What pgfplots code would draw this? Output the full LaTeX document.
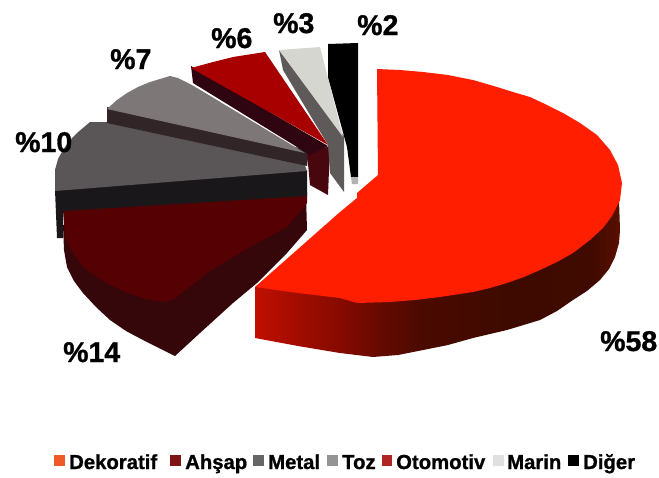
\documentclass[border=0pt]{standalone}
\usepackage{fontspec}
\setmainfont[BoldFeatures={FakeBold=1}]{Liberation Sans}
\usepackage{pgfplots}
\pgfplotsset{compat=1.18}

\definecolor{dekor}{HTML}{FF1E00}
\definecolor{ahsapTop}{HTML}{550002}
\definecolor{ahsapSide}{HTML}{35060A}
\definecolor{metalTop}{HTML}{5A5557}
\definecolor{metalSide}{HTML}{1A171A}
\definecolor{tozTop}{HTML}{7D7778}
\definecolor{tozSide}{HTML}{322528}
\definecolor{otoTop}{HTML}{A80000}
\definecolor{otoSide}{HTML}{2E0510}
\definecolor{otoDark}{HTML}{48060F}
\definecolor{marinTop}{HTML}{D6D6D0}
\definecolor{marinSide}{HTML}{5F5A5A}
\definecolor{legDekor}{HTML}{F05A28}
\definecolor{legAhsap}{HTML}{7D1416}
\definecolor{legMetal}{HTML}{666666}
\definecolor{legToz}{HTML}{949494}
\definecolor{legOto}{HTML}{B02424}
\definecolor{legMarin}{HTML}{E0E0E0}

\pgfdeclarehorizontalshading{redside}{100bp}{
  rgb(0bp)=(0.75,0.06,0);
  rgb(25bp)=(0.75,0.06,0);
  rgb(31bp)=(0.63,0.05,0);
  rgb(37bp)=(0.52,0.04,0);
  rgb(42bp)=(0.40,0.04,0);
  rgb(48bp)=(0.29,0.04,0);
  rgb(60bp)=(0.24,0.04,0);
  rgb(71bp)=(0.25,0.04,0);
  rgb(75bp)=(0.35,0.06,0);
  rgb(100bp)=(0.35,0.06,0)
}

\tikzset{
  lab/.style={font=\fontsize{28.5}{30}\selectfont\bfseries, anchor=base west, inner sep=0pt},
  leg/.style={font=\fontsize{20.3}{22}\selectfont\bfseries, anchor=base west, inner sep=0pt},
}

\begin{document}
\begin{tikzpicture}
\path[use as bounding box] (0,0) rectangle (659pt,477pt);
\begin{axis}[
    at={(0,0)},
    anchor=south west,
    scale only axis,
    width=659pt,
    height=477pt,
    xmin=0, xmax=659,
    ymin=0, ymax=477,
    y dir=reverse,
    hide axis,
    clip=false,
    every axis plot/.append style={draw=none},
]
% Ahsap 14
\addplot[fill=ahsapSide] coordinates {
    (63,225) (64,250) (67,267) (74,281) (83,293) (96,307) (110,320) (126,331) (143,340) (175,356) (200,333)
    (233,303) (257,283) (287,253) (307,230) (306,195)
} --cycle;
\addplot[fill=ahsapTop] coordinates {
    (63,210) (65,237) (73,253) (83,267) (104,282) (127,293) (146,299) (163,302) (173,300) (207,273)
    (250,247) (287,227) (307,203) (307,192)
} --cycle;
% Metal 10
\addplot[fill=metalSide] coordinates {
    (55,190) (307,170) (307,196) (63,211) (63,238) (57,238)
} --cycle;
\addplot[fill=metalTop] coordinates {
    (55,191) (55,170) (58,159) (63,150) (69,141) (77,133) (90,122) (107,122) (303,160) (307,171)
} --cycle;
% Toz 7
\addplot[fill=tozSide] coordinates {
    (107,107) (107,123) (307,166) (309,150)
} --cycle;
\addplot[fill=tozTop] coordinates {
    (107,109) (117,100) (127,93) (138,87) (150,82) (170,76) (178,78) (192,85) (305,153)
} --cycle;
% Otomotiv 6
\addplot[fill=otoDark] coordinates {
    (307,153) (330,146) (328,195) (310,185)
} --cycle;
\addplot[fill=otoSide] coordinates {
    (191,66) (193,83) (310,155) (328,146)
} --cycle;
\addplot[fill=otoTop] coordinates {
    (191,68) (213,62) (233,57) (265,52) (328,145)
} --cycle;
% Marin 3
\addplot[fill=marinSide] coordinates {
    (279,50) (283,70) (328,145) (330,173) (344,192) (344,136)
} --cycle;
\addplot[fill=marinTop] coordinates {
    (279,50) (320,47) (343,137)
} --cycle;
% Diger 2
\addplot[fill=black] coordinates {
    (328,44) (358,43) (358,177) (351,177) (347,147) (328,77)
} --cycle;
\addplot[fill=gray!60] coordinates {
    (351,177) (358,177) (358,184) (352,184)
} --cycle;
% Dekoratif 58
\addplot[shading=redside] coordinates {
    (619,200) (620,230) (619,243) (615,257) (609,269) (600,280) (587,291) (573,300) (557,311) (540,320) (507,330) (473,338)
    (448,345) (423,350) (398,355) (373,357) (340,353) (298,346) (255,338) (255,287) (340,290) (500,270)
} --cycle;
\addplot[fill=dekor] coordinates {
    (377,69) (400,70) (423,72) (448,75) (473,80) (497,87) (513,92) (530,97) (547,105) (563,113) (580,123) (597,135)
    (610,150) (618,165) (622,183) (620,200) (612,216) (603,228) (590,240) (573,253) (557,262) (540,270) (524,277)
    (507,283) (490,288) (473,292) (440,297) (415,300) (390,302) (357,303) (340,298) (298,293) (255,287) (340,212)
    (357,198) (357,193) (378,175)
} --cycle;
% legend squares
\addplot[fill=legDekor] coordinates {(54,455) (65,455) (65,466) (54,466)} --cycle;
\addplot[fill=legAhsap] coordinates {(170,455) (181,455) (181,466) (170,466)} --cycle;
\addplot[fill=legMetal] coordinates {(253,455) (264,455) (264,466) (253,466)} --cycle;
\addplot[fill=legToz] coordinates {(327,455) (338,455) (338,466) (327,466)} --cycle;
\addplot[fill=legOto] coordinates {(382,455) (392,455) (392,466) (382,466)} --cycle;
\addplot[fill=legMarin] coordinates {(493,455) (504,455) (504,466) (493,466)} --cycle;
\addplot[fill=black] coordinates {(568,455) (579,455) (579,466) (568,466)} --cycle;
% percent labels
\node[lab] at (axis cs:600,351) {\%58};
\node[lab] at (axis cs:63,362) {\%14};
\node[lab] at (axis cs:15,152) {\%10};
\node[lab] at (axis cs:110,69) {\%7};
\node[lab] at (axis cs:211,48) {\%6};
\node[lab] at (axis cs:273,33) {\%3};
\node[lab] at (axis cs:357,35) {\%2};
% legend labels
\node[leg] at (axis cs:69,469) {Dekoratif};
\node[leg] at (axis cs:185,469) {Ahşap};
\node[leg] at (axis cs:268,469) {Metal};
\node[leg] at (axis cs:342,469) {Toz};
\node[leg] at (axis cs:396,469) {Otomotiv};
\node[leg] at (axis cs:507,469) {Marin};
\node[leg] at (axis cs:583,469) {Diğer};
\end{axis}
\end{tikzpicture}
\end{document}
